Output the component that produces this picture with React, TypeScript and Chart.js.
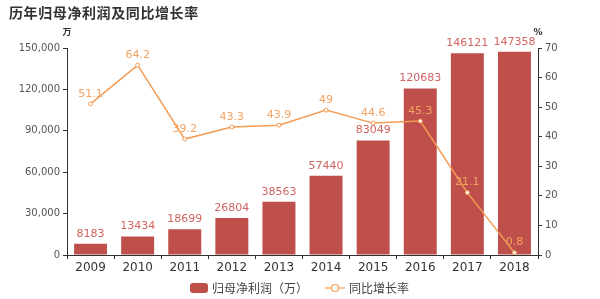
import React, { useEffect, useRef } from "react";
import { Chart, registerables } from "chart.js";
Chart.register(...registerables);

const years = ["2009", "2010", "2011", "2012", "2013", "2014", "2015", "2016", "2017", "2018"];
const profit = [8183, 13434, 18699, 26804, 38563, 57440, 83049, 120683, 146121, 147358];
const growth = [51.1, 64.2, 39.2, 43.3, 43.9, 49, 44.6, 45.3, 21.1, 0.8];
const leftTicks = [0, 30000, 60000, 90000, 120000, 150000];
const rightTicks = [0, 10, 20, 30, 40, 50, 60, 70];

const BAR = "#be4f4b";
const LINE = "#f39b53";
const FONT = "'DejaVu Sans', sans-serif";
const CJK = "'Noto Sans CJK SC', sans-serif";

const fmt = (v: number) => String(v).replace(/\B(?=(\d{3})+(?!\d))/g, ",");

export default function App() {
  const ref = useRef<HTMLCanvasElement>(null);
  useEffect(() => {
    document.body.style.margin = "0";
    const overlay = {
      id: "overlay",
      afterDatasetsDraw(chart: any) {
        const ctx = chart.ctx;
        ctx.save();
        ctx.textAlign = "center";
        ctx.textBaseline = "middle";
        ctx.font = `11px ${FONT}`;
        const m0 = chart.getDatasetMeta(0);
        ctx.fillStyle = "#d06462";
        m0.data.forEach((el: any, i: number) => {
          ctx.fillText(String(profit[i]), el.x, el.y - 10);
        });
        const m1 = chart.getDatasetMeta(1);
        ctx.fillStyle = "#f2a261";
        m1.data.forEach((el: any, i: number) => {
          ctx.fillText(String(growth[i]), el.x, el.y - 10);
        });
        ctx.restore();
      },
      afterDraw(chart: any) {
        const ctx = chart.ctx;
        ctx.save();
        ctx.textBaseline = "middle";
        ctx.textAlign = "left";
        ctx.fillStyle = "#333";
        ctx.font = `bold 14px ${CJK}`;
        (ctx as any).letterSpacing = "0.6px";
        ctx.fillText("历年归母净利润及同比增长率", 9, 13);
        (ctx as any).letterSpacing = "0px";
        ctx.textAlign = "center";
        ctx.font = `bold 9px ${CJK}`;
        ctx.fillText("万", chart.scales.y.right, 32);
        ctx.font = `bold 9px ${FONT}`;
        ctx.fillText("%", chart.scales.y1.left, 33);
        // legend
        ctx.fillStyle = BAR;
        ctx.beginPath();
        (ctx as any).roundRect(190, 283, 18, 10, 3);
        ctx.fill();
        ctx.fillStyle = "#444";
        ctx.textAlign = "left";
        ctx.font = `12px ${CJK}`;
        ctx.fillText("归母净利润（万）", 212, 288);
        ctx.strokeStyle = LINE;
        ctx.lineWidth = 1.2;
        ctx.beginPath();
        ctx.moveTo(325, 288);
        ctx.lineTo(345, 288);
        ctx.stroke();
        ctx.beginPath();
        ctx.arc(335, 288, 3.5, 0, Math.PI * 2);
        ctx.fillStyle = "#fff";
        ctx.fill();
        ctx.stroke();
        ctx.fillStyle = "#444";
        ctx.fillText("同比增长率", 349, 288);
        ctx.restore();
      },
    };
    const chart = new Chart(ref.current!, {
      type: "bar",
      data: {
        labels: years,
        datasets: [
          {
            type: "bar",
            data: profit,
            backgroundColor: BAR,
            yAxisID: "y",
            categoryPercentage: 0.7,
            barPercentage: 1,
            order: 2,
          },
          {
            type: "line",
            data: growth,
            borderColor: LINE,
            borderWidth: 1.5,
            pointRadius: 2,
            pointBackgroundColor: "#fff",
            pointBorderColor: LINE,
            pointBorderWidth: 1,
            yAxisID: "y1",
            tension: 0,
            order: 1,
          } as any,
        ],
      },
      options: {
        animation: false,
        responsive: false,
        layout: { padding: { top: 48, left: 0, right: 0, bottom: 0 } },
        plugins: { legend: { display: false }, tooltip: { enabled: false } },
        scales: {
          x: {
            grid: { drawOnChartArea: false, tickLength: 4, color: "#333" },
            border: { color: "#333" },
            ticks: { color: "#333", font: { family: FONT, size: 12 }, padding: 2 },
            afterFit(s: any) { s.height = 44; },
          },
          y: {
            position: "left",
            min: 0,
            max: 150000,
            afterBuildTicks(s: any) { s.ticks = leftTicks.map((v) => ({ value: v })); },
            grid: { drawOnChartArea: false, tickLength: 4, color: "#333" },
            border: { color: "#333" },
            ticks: {
              color: "#555",
              font: { family: FONT, size: 10 },
              padding: 3,
              callback: (v: any) => fmt(Number(v)),
            },
            afterFit(s: any) { s.width = 67; },
          },
          y1: {
            position: "right",
            min: 0,
            max: 70,
            afterBuildTicks(s: any) { s.ticks = rightTicks.map((v) => ({ value: v })); },
            grid: { drawOnChartArea: false, tickLength: 4, color: "#333" },
            border: { color: "#333" },
            ticks: { color: "#555", font: { family: FONT, size: 10 }, padding: 3 },
            afterFit(s: any) { s.width = 62; },
          },
        },
      },
      plugins: [overlay],
    });
    return () => chart.destroy();
  }, []);
  return <canvas ref={ref} width={600} height={299} style={{ display: "block" }} />;
}
